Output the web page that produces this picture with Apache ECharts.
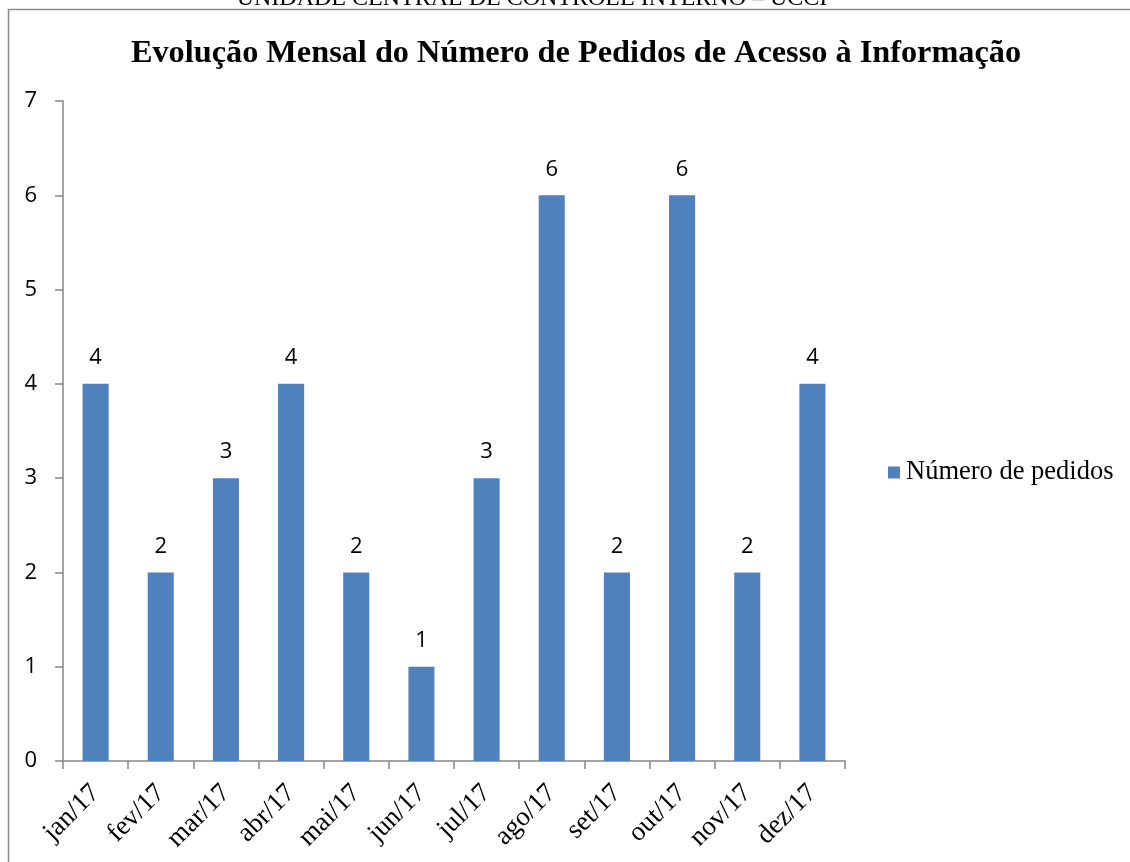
<!DOCTYPE html>
<html>
<head>
<meta charset="utf-8">
<script src="https://cdn.jsdelivr.net/npm/echarts@6/dist/echarts.min.js"></script>
<style>
html,body{margin:0;padding:0;background:#fff;}
#chart{width:1130px;height:862px;}
</style>
</head>
<body>
<div id="chart"></div>
<script>
const headerText = 'UNIDADE CENTRAL DE CONTROLE INTERNO – UCCI';
const titleText = 'Evolução Mensal do Número de Pedidos de Acesso à Informação';
const seriesName = 'Número de pedidos';
const categories = ['jan/17','fev/17','mar/17','abr/17','mai/17','jun/17','jul/17','ago/17','set/17','out/17','nov/17','dez/17'];
const pedidos = [4,2,3,4,2,1,3,6,2,6,2,4];

const chart = echarts.init(document.getElementById('chart'));
const axisGray = '#868686';
chart.setOption({
  animation: false,
  backgroundColor: '#fff',
  graphic: [
    { type: 'rect', shape: { x: 8.5, y: 9.5, width: 1130, height: 900 },
      style: { fill: 'none', stroke: '#8a8a8a', lineWidth: 1.5 }, silent: true },
    { type: 'text', x: 532, y: 11,
      style: { text: headerText, font: '24px "Liberation Serif", "Times New Roman", serif',
        fill: '#000', textAlign: 'center', textVerticalAlign: 'bottom' }, silent: true }
  ],
  title: {
    text: titleText,
    left: 571, top: 33, textAlign: 'center',
    textStyle: { fontFamily: '"Liberation Serif", "Times New Roman", serif', fontWeight: 'bold', fontSize: 32.3, color: '#000' }
  },
  legend: {
    orient: 'vertical', left: 883, top: 454,
    icon: 'rect', itemWidth: 12, itemHeight: 12, itemGap: 5,
    textStyle: { fontFamily: '"Liberation Serif", "Times New Roman", serif', fontSize: 26.5, color: '#000', padding: [0,0,0,1] },
    data: [seriesName]
  },
  grid: { left: 63, top: 101, width: 782, height: 660, containLabel: false },
  xAxis: {
    type: 'category', data: categories,
    axisLine: { lineStyle: { color: axisGray, width: 1.5 } },
    axisTick: { show: true, alignWithLabel: false, length: 8, lineStyle: { color: axisGray, width: 1.5 } },
    axisLabel: { rotate: 45, margin: 28, fontFamily: '"Liberation Serif", "Times New Roman", serif', fontSize: 27, color: '#000', interval: 0 },
    splitLine: { show: false }
  },
  yAxis: {
    type: 'value', min: 0, max: 7, interval: 1,
    axisLine: { show: true, lineStyle: { color: axisGray, width: 1.5 } },
    axisTick: { show: true, length: 8, lineStyle: { color: axisGray, width: 1.5 } },
    axisLabel: { margin: 26, fontFamily: '"Open Sans", "Noto Sans", sans-serif', fontSize: 22, color: '#000' },
    splitLine: { show: false }
  },
  series: [{
    name: seriesName, type: 'bar', data: pedidos, barWidth: '40%',
    itemStyle: { color: '#4F81BD' },
    label: { show: true, position: 'top', distance: 15, fontFamily: '"Open Sans", "Noto Sans", sans-serif', fontSize: 22, color: '#000' }
  }]
});
</script>
</body>
</html>
